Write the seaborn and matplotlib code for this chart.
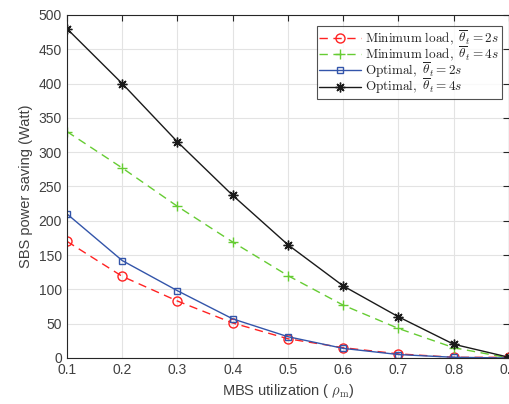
import numpy as np
import pandas as pd
import matplotlib
matplotlib.use('Agg')
import matplotlib.pyplot as plt
import seaborn as sns

# data
rho = [0.1, 0.2, 0.3, 0.4, 0.5, 0.6, 0.7, 0.8, 0.9]
min_load_2s = [170, 119, 83, 51, 28, 15, 6, 1, 1]
min_load_4s = [330, 277, 221, 169, 120, 77, 43, 15, 0]
optimal_2s = [210, 142, 98, 57, 31, 14, 5, 1, 0]
optimal_4s = [480, 400, 315, 237, 165, 105, 60, 20, 1]

labels = [
    r'$\mathrm{Minimum\ load},\ \overline{\theta}_t = 2s$',
    r'$\mathrm{Minimum\ load},\ \overline{\theta}_t = 4s$',
    r'$\mathrm{Optimal},\ \overline{\theta}_t = 2s$',
    r'$\mathrm{Optimal},\ \overline{\theta}_t = 4s$',
]

sns.set_style('white')
plt.rcParams['font.family'] = ['Liberation Sans', 'DejaVu Sans']
plt.rcParams['mathtext.fontset'] = 'cm'

fig = plt.figure(figsize=(5.09, 4.04), dpi=100)
ax = fig.add_axes([0.1316, 0.1139, 0.8684, 0.8490])

# (values, label, colour, dashes, marker, marker size, face)
series = [
    (min_load_2s, labels[0], '#ff2222', (6, 4), 'o', 6.5, 'none'),
    (min_load_4s, labels[1], '#66cc33', (6, 4), '+', 7, None),
    (optimal_2s, labels[2], '#3355aa', None, 's', 5, 'none'),
    (optimal_4s, labels[3], '#1a1a1a', None, (8, 2, 0), 7, None),
]

for vals, lab, col, dash, mk, ms, mfc in series:
    df = pd.DataFrame({'x': rho, 'y': vals})
    kw = dict(markersize=ms, markeredgewidth=1.0)
    if mfc is not None:
        kw['markerfacecolor'] = mfc
    sns.lineplot(data=df, x='x', y='y', ax=ax, color=col, marker=mk,
                 markeredgecolor=col, linewidth=1.0, label=lab, **kw)
for ln, s in zip(ax.get_lines(), series):
    if s[3] is not None:
        ln.set_dashes(s[3])

ax.set_xlim(0.1, 0.9)
ax.set_ylim(0, 500)
ax.set_xticks(np.arange(0.1, 0.91, 0.1))
ax.set_xticklabels(['0.1', '0.2', '0.3', '0.4', '0.5', '0.6', '0.7', '0.8', '0.9'])
ax.set_yticks(range(0, 501, 50))
ax.grid(True, color='#e3e3e3', linewidth=0.8)
ax.set_axisbelow(True)
for s in ax.spines.values():
    s.set_color('#262626')
    s.set_linewidth(0.8)
ax.tick_params(direction='in', top=True, right=True, length=4, width=0.8,
               labelsize=10, colors='#262626', labelcolor='#404040')
ax.set_xlabel(r'MBS utilization ( $\rho_{\rm m}$)', fontsize=10.5, color='#404040')
ax.set_ylabel('SBS power saving (Watt)', fontsize=10.5, color='#404040')

leg = ax.legend(loc='upper right', bbox_to_anchor=(0.99, 0.975), fontsize=9.5,
                frameon=True, fancybox=False, edgecolor='#262626',
                handlelength=3.2, borderpad=0.2, labelspacing=-0.2,
                handletextpad=0.3, borderaxespad=0.2)
leg.get_frame().set_linewidth(0.8)

fig.savefig('out.png', dpi=100)
